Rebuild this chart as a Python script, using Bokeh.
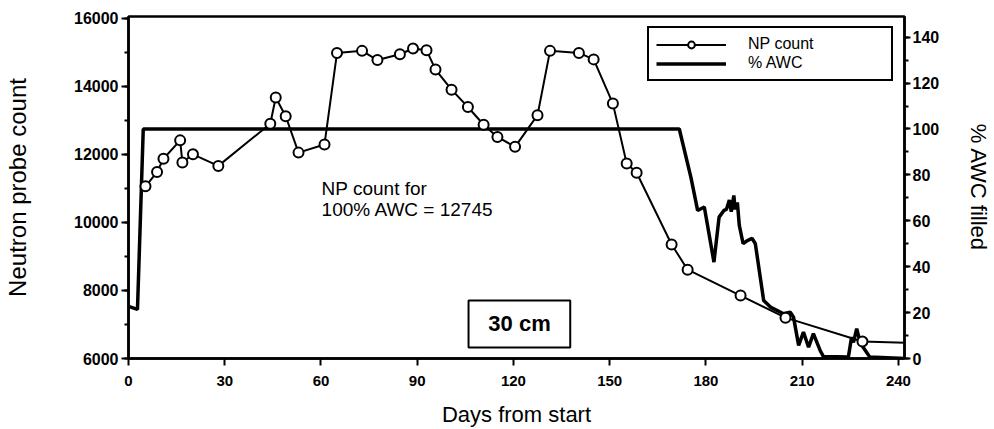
from bokeh.plotting import figure
from bokeh.models import (Range1d, LinearAxis, SingleIntervalTicker, Legend,
                          LegendItem, Label, BoxAnnotation)
from bokeh.embed import file_html
from bokeh.resources import INLINE

# ---- data ----
np_days = [5.3, 8.9, 10.9, 16.1, 16.8, 20.1, 28.0, 44.2, 45.9, 49.0, 53.0,
           61.1, 65.0, 72.8, 77.6, 84.6, 88.7, 92.9, 95.7, 100.7, 105.8,
           110.7, 115.0, 120.5, 127.5, 131.4, 140.4, 145.0, 151.0, 155.3,
           158.4, 169.3, 174.3, 190.8, 204.8, 228.8, 242.0]
np_count = [11060, 11480, 11870, 12410, 11760, 12000, 11660, 12900, 13670,
            13120, 12050, 12290, 14980, 15040, 14770, 14940, 15110, 15060,
            14490, 13900, 13390, 12870, 12510, 12220, 13150, 15040, 14980,
            14790, 13490, 11730, 11460, 9350, 8610, 7850, 7200, 6500, 6460]

awc_days = [0, 2.8, 4.6, 171.7, 175.3, 176.8, 177.4, 179.5, 182.5, 184.1,
            185.6, 186.4, 187.3, 187.9, 188.7, 189.1, 189.8, 190.4, 191.6,
            192.9, 194.4, 195.4, 198.0, 200.1, 204.2, 206.3, 207.3, 208.9,
            210.4, 212.0, 213.5, 215.6, 216.6, 224.4, 225.4, 226.0, 227.0,
            227.8, 229.0, 231.1, 242.0]
awc_pct = [22.7, 21.4, 100, 100, 79, 68.8, 64.5, 66, 42, 61.6,
           64.5, 65, 69, 64, 71, 65, 68, 58, 50,
           51.4, 52.3, 50, 25.3, 22.4, 19.5, 20.2, 18, 5.7,
           11.5, 4.9, 10.8, 3.5, 0.9, 0.6, 9.3, 7, 13,
           8.6, 4.9, 0.6, 0]

x_tick_step = 30
left_tick_step = 2000
right_tick_step = 20
series_labels = ["NP count", "% AWC"]
note_lines = ["NP count for", "100% AWC = 12745"]
depth_label = "30 cm"

FONT = "Liberation Sans"

p = figure(width=994, height=429, output_backend="svg", toolbar_location=None,
           x_range=Range1d(0, 241.9), y_range=Range1d(6000, 16050),
           min_border_left=128, min_border_right=86, min_border_top=16,
           min_border_bottom=71, background_fill_color="white",
           border_fill_color="white")
p.extra_y_ranges = {"awc": Range1d(0, 149)}
p.xgrid.visible = False
p.ygrid.visible = False
p.outline_line_color = "black"
p.outline_line_width = 2.5
p.outline_line_alpha = 1.0


def style_axis(ax, size, tick_out, std):
    ax.major_tick_out = tick_out
    ax.major_tick_in = 0
    ax.minor_tick_out = 4
    ax.minor_tick_in = 0
    ax.major_label_standoff = std
    ax.major_label_text_font = FONT
    ax.major_label_text_font_style = "bold"
    ax.major_label_text_font_size = size
    ax.major_label_text_color = "black"
    ax.axis_line_width = 2.5
    ax.axis_line_color = "black"
    ax.major_tick_line_width = 2
    ax.minor_tick_line_width = 2
    ax.major_tick_line_color = "black"
    ax.minor_tick_line_color = "black"
    ax.axis_label_text_font = FONT
    ax.axis_label_text_font_style = "normal"
    ax.axis_label_text_color = "black"


# bottom axis
xa = p.xaxis[0]
xa.ticker = SingleIntervalTicker(interval=x_tick_step, num_minor_ticks=0)
style_axis(xa, "15px", 7, 10)
xa.minor_tick_line_color = None
xa.axis_label = "Days from start"
xa.axis_label_text_font_size = "22px"
xa.axis_label_standoff = 13

# left axis
ya = p.yaxis[0]
ya.ticker = SingleIntervalTicker(interval=left_tick_step, num_minor_ticks=2)
style_axis(ya, "16px", 7, 3)
ya.axis_label = "Neutron probe count"
ya.axis_label_text_font_size = "24px"
ya.axis_label_standoff = 40

# right axis
ra = LinearAxis(y_range_name="awc",
                ticker=SingleIntervalTicker(interval=right_tick_step, num_minor_ticks=2))
style_axis(ra, "16px", 6, 2)
ra.axis_label = "% AWC filled"
ra.axis_label_text_font_size = "22px"
ra.axis_label_standoff = 24
p.add_layout(ra, "right")

# data
awc_r = p.line(awc_days, awc_pct, y_range_name="awc", line_width=3.5,
               line_color="black")
np_line = p.line(np_days, np_count, line_width=2, line_color="black")
np_pts = p.scatter(np_days[:-1], np_count[:-1], size=10, fill_color="white",
                   line_color="black", line_width=2)

legend = Legend(items=[LegendItem(label=series_labels[0], renderers=[np_line, np_pts]),
                       LegendItem(label=series_labels[1], renderers=[awc_r])],
                location=(519, 277), orientation="vertical",
                glyph_width=70, glyph_height=17, label_height=17,
                label_width=136, label_standoff=22, spacing=1, padding=7,
                margin=0, border_line_color="black", border_line_width=2,
                border_line_alpha=1.0,
                background_fill_color="white", background_fill_alpha=1,
                label_text_font=FONT, label_text_font_size="16px",
                label_text_color="black")
p.add_layout(legend, "center")

# annotations
p.add_layout(Label(x=60.2, y=10996, text=note_lines[0], text_font=FONT,
                   text_font_size="19px", text_baseline="alphabetic",
                   text_align="left", text_color="black"))
p.add_layout(Label(x=60.2, y=10379, text=note_lines[1], text_font=FONT,
                   text_font_size="19px", text_baseline="alphabetic",
                   text_align="left", text_color="black"))
p.add_layout(BoxAnnotation(left=106.0, right=137.7, bottom=6323, top=7705,
                           fill_color="white", fill_alpha=1.0,
                           line_color="black", line_width=2, line_alpha=1.0))
p.add_layout(Label(x=121.9, y=7028, text=depth_label, text_font=FONT,
                   text_font_size="22px", text_font_style="bold",
                   text_align="center", text_baseline="middle",
                   text_color="black"))

open("out.html", "w").write(file_html(p, INLINE))
